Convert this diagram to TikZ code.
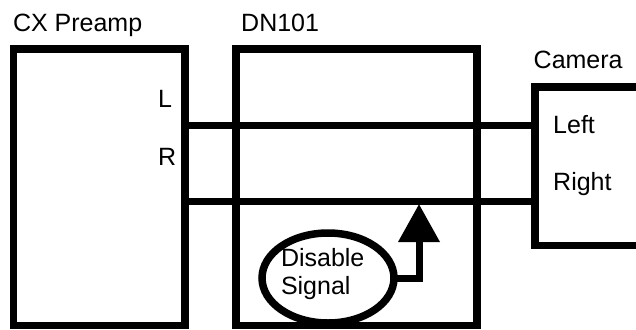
\documentclass[tikz,border=0pt]{standalone}
\usepackage{fontspec}
\setmainfont{Liberation Sans}
\usetikzlibrary{shapes.geometric,arrows.meta}
\begin{document}
\begin{tikzpicture}[x=1pt,y=-1pt,
  unitbox/.style={draw,line width=7.5pt,inner sep=0pt,outer sep=0pt},
  wire/.style={line width=7pt},
  lbl/.style={inner sep=0pt,anchor=base west,font=\fontsize{25}{28}\selectfont}]
\clip (0,0) rectangle (636,329);
\fill[white] (0,0) rectangle (636,329);
% boxes
\node[unitbox,minimum width=171.5pt,minimum height=276.5pt] (preamp) at (99.25,187.25) {};
\node[unitbox,minimum width=241pt,minimum height=276.5pt] (dn) at (356.5,187.25) {};
\node[unitbox,minimum width=165pt,minimum height=158.5pt] (camera) at (617.5,166.25) {};
\node[unitbox,ellipse,line width=7.5pt,minimum width=132pt,minimum height=90pt] (sig) at (328,278) {};
% titles and port labels
\node[lbl] (tpre) at (12.8,31) {CX Preamp};
\node[lbl] (tdn) at (241,31) {DN101};
\node[lbl] (tcam) at (533.5,68) {Camera};
\node[lbl] (pl) at (158,107) {L};
\node[lbl] (pr) at (158,165) {R};
\node[lbl] (cl) at (553,133) {Left};
\node[lbl] (cr) at (553,190) {Right};
\node[lbl,anchor=north west,align=left] (sigtext) at (280.8,248) {Disable\\Signal};
% signal lines
\coordinate (lrow) at (0,125.5);
\coordinate (rrow) at (0,201.5);
\draw[wire] (preamp.east |- lrow) -- (camera.west |- lrow);
\draw[wire] (preamp.east |- rrow) -- (camera.west |- rrow);
\coordinate (tip) at (419,204);
\draw[wire,line join=miter,-{Triangle[width=40pt,length=38pt]}] (sig.east) -| (tip);
\end{tikzpicture}
\end{document}
